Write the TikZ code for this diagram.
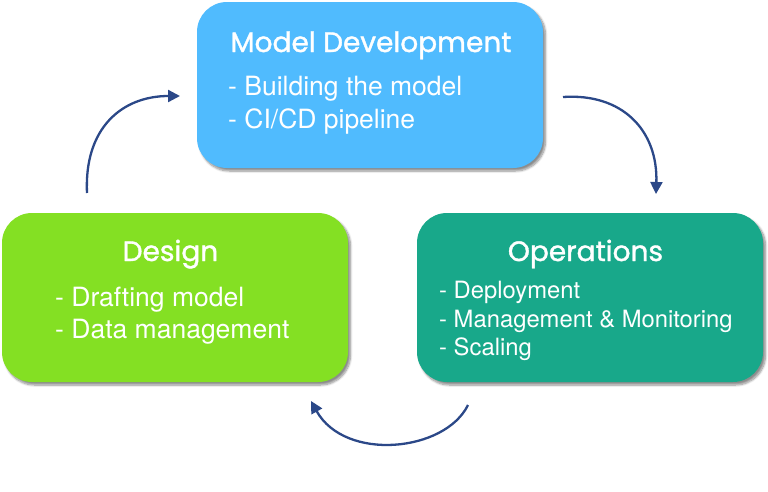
\documentclass[tikz,border=0pt]{standalone}
\usepackage{fontspec}
\setmainfont{TeX Gyre Heros}
\newfontfamily\titlefont{Poppins}[FakeBold=1.3]
\usetikzlibrary{shadows.blur,arrows.meta}
\definecolor{devblue}{HTML}{50BBFE}
\definecolor{desgreen}{HTML}{84E023}
\definecolor{opsteal}{HTML}{18A88A}
\definecolor{arrowblue}{HTML}{2B4888}
\begin{document}
\begin{tikzpicture}[x=1pt,y=-1pt,
  phasebox/.style={rounded corners=30pt, inner sep=0pt,
    blur shadow={shadow xshift=2.5pt, shadow yshift=-3pt, shadow blur steps=8, shadow opacity=45}},
  titletext/.style={font=\titlefont\fontsize{28}{32}\selectfont, text=white, inner sep=0pt},
  itemtext/.style={font=\fontsize{26.5}{30}\selectfont, text=white, inner sep=0pt, anchor=base west},
  opsitemtext/.style={itemtext, font=\fontsize{23.8}{28}\selectfont},
  cyclearrow/.style={draw=arrowblue, line width=2.3pt, -{Triangle[length=12pt,width=12pt]}}]
\useasboundingbox (0,0) rectangle (768,491);
% boxes
\path[phasebox, fill=devblue] (197,2) rectangle (543,168);
\node[minimum width=346pt, minimum height=166pt, inner sep=0pt] (dev) at (370,85) {};
\path[phasebox, fill=desgreen] (2,213) rectangle (348,382);
\node[minimum width=346pt, minimum height=169pt, inner sep=0pt] (des) at (175,297.5) {};
\path[phasebox, fill=opsteal] (417,213) rectangle (763,382);
\node[minimum width=346pt, minimum height=169pt, inner sep=0pt] (ops) at (590,297.5) {};
% titles
\node[titletext, anchor=base] (devtitle) at (371,52) {Model Development};
\node[titletext, anchor=base] (destitle) at (170.5,261) {Design};
\node[titletext, anchor=base] (opstitle) at (585.5,261) {Operations};
% items
\node[itemtext] (dev1) at (228,95) {- Building the model};
\node[itemtext] (dev2) at (228,128) {- CI/CD pipeline};
\node[itemtext] (des1) at (55,306) {- Drafting model};
\node[itemtext] (des2) at (55,338) {- Data management};
\node[opsitemtext] (ops1) at (439,298) {- Deployment};
\node[opsitemtext] (ops2) at (439,327) {- Management \& Monitoring};
\node[opsitemtext] (ops3) at (439,355) {- Scaling};
% arrow ends
\coordinate (a1s) at (87,193);
\coordinate (a1e) at (180,96);
\coordinate (a2s) at (563,97);
\coordinate (a2e) at (656,194);
\coordinate (a3s) at (468,405);
\coordinate (a3e) at (311,401);
\draw[cyclearrow] (a1s) .. controls (84,128) and (122,96) .. (a1e);
\draw[cyclearrow] (a2s) .. controls (622,93) and (658,130) .. (a2e);
\draw[cyclearrow] (a3s) .. controls (445,452) and (345,462) .. (a3e);
\end{tikzpicture}
\end{document}
